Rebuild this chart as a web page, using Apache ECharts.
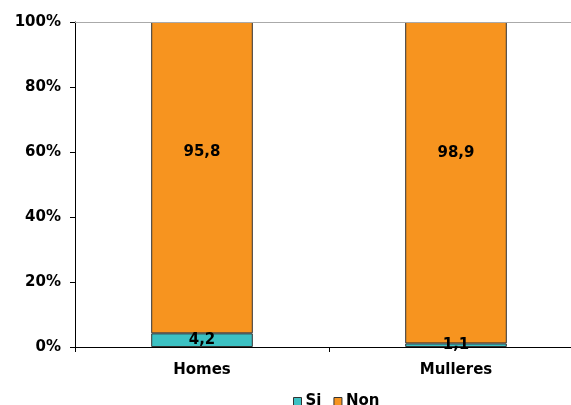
<!DOCTYPE html>
<html><head><meta charset="utf-8">
<script src="https://cdn.jsdelivr.net/npm/echarts@6/dist/echarts.min.js"></script>
<style>html,body{margin:0;padding:0;background:#fff;overflow:hidden;width:571px;height:405px}#c{width:583px;height:405px}</style>
</head><body><div id="c"></div>
<script>
const categories = ["Homes", "Mulleres"];
const siValues = [4.2, 1.1];
const nonValues = [95.8, 98.9];
const seriesNames = ["Si", "Non"];
const font = "DejaVu Sans";
const fs = 15;
const chart = echarts.init(document.getElementById('c'));
const lbl = {
  show: true, position: 'inside', color: '#000', fontFamily: font, fontWeight: 'bold', fontSize: fs,
  formatter: p => String(p.value).replace('.', ',')
};
const nonOffsets = [[0, -26], [0, -30]];
chart.setOption({
  animation: false,
  grid: { left: 75, right: 0, top: 22, bottom: 58, containLabel: false },
  legend: {
    bottom: -9, left: 288, data: seriesNames, itemWidth: 8, itemHeight: 8, itemGap: 12,
    textStyle: { fontFamily: font, fontWeight: 'bold', fontSize: fs, color: '#000', padding: [0,0,0,-1] },
    icon: 'rect', itemStyle: { borderColor: '#333', borderWidth: 1 }
  },
  xAxis: {
    type: 'category', data: categories,
    axisLine: { lineStyle: { color: '#000', width: 1 } },
    axisTick: { show: true, alignWithLabel: false, length: 5, lineStyle: { color: '#000' } },
    axisLabel: { fontFamily: font, fontWeight: 'bold', fontSize: fs, color: '#000', margin: 16 }
  },
  yAxis: {
    type: 'value', min: 0, max: 100, interval: 20,
    axisLine: { show: true, lineStyle: { color: '#000', width: 1 } },
    axisTick: { show: true, length: 5, lineStyle: { color: '#000' } },
    splitLine: { show: false },
    axisLabel: { fontFamily: font, fontWeight: 'bold', fontSize: fs, color: '#000', margin: 14,
      formatter: '{value}%' }
  },
  series: [
    { name: seriesNames[0], type: 'bar', stack: 't', data: siValues, barWidth: '40%',
      itemStyle: { color: '#3CC1C3', borderColor: '#333', borderWidth: 1 }, label: lbl },
    { name: seriesNames[1], type: 'bar', stack: 't', barWidth: '40%',
      data: nonValues.map((v, i) => ({ value: v, label: { offset: nonOffsets[i] } })),
      itemStyle: { color: '#F7941F', borderColor: '#333', borderWidth: 1 }, label: lbl,
      markLine: { silent: true, symbol: 'none', label: { show: false },
        lineStyle: { color: '#aaa', type: 'solid', width: 1 }, data: [{ yAxis: 100 }] } }
  ]
});
</script></body></html>
